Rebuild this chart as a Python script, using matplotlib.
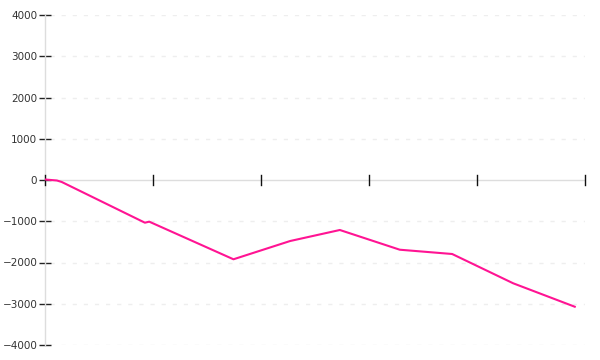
import matplotlib
matplotlib.use("Agg")
import matplotlib.pyplot as plt

x_values = [0, 2.2, 3.1, 18.5, 19.3, 34.9, 45.4, 54.6, 65.7, 75.4, 86.7, 98.1]
y_values = [12, -12, -48, -1035, -1010, -1922, -1479, -1212, -1690, -1794, -2504, -3072]
y_ticks = [-4000, -3000, -2000, -1000, 0, 1000, 2000, 3000, 4000]
x_ticks = [0, 20, 40, 60, 80, 100]

fig = plt.figure(figsize=(6, 3.6), dpi=100)
ax = fig.add_axes([45/600, 15/360, 540/600, 330/360])

ax.set_xlim(0, 100)
ax.set_ylim(-4000, 4000)

for s in ["top", "right", "bottom"]:
    ax.spines[s].set_visible(False)
ax.spines["left"].set_color("#dddddd")
ax.spines["left"].set_linewidth(1)

# zero line as x axis
ax.axhline(0, color="#dddddd", lw=1, zorder=1)

# gridlines
for yv in y_ticks:
    if yv != 0:
        ax.axhline(yv, xmin=5/540, color="#eeeeee", lw=1, ls=(0, (3, 5)), zorder=0)

ax.set_yticks(y_ticks)
ax.set_yticklabels([str(v).replace("-", "\u2212") for v in y_ticks])
ax.tick_params(axis="y", direction="inout", length=9, width=1, color="#222222",
               labelsize=7.5, labelcolor="#333333", pad=1)

ax.set_xticks([])
for xv in x_ticks:
    ax.plot([xv, xv], [-110, 110], color="#111111", lw=1, zorder=3, clip_on=False)

ax.plot(x_values, y_values, color="#ff1493", lw=1.5, zorder=4)

fig.savefig("out.png", dpi=100)
